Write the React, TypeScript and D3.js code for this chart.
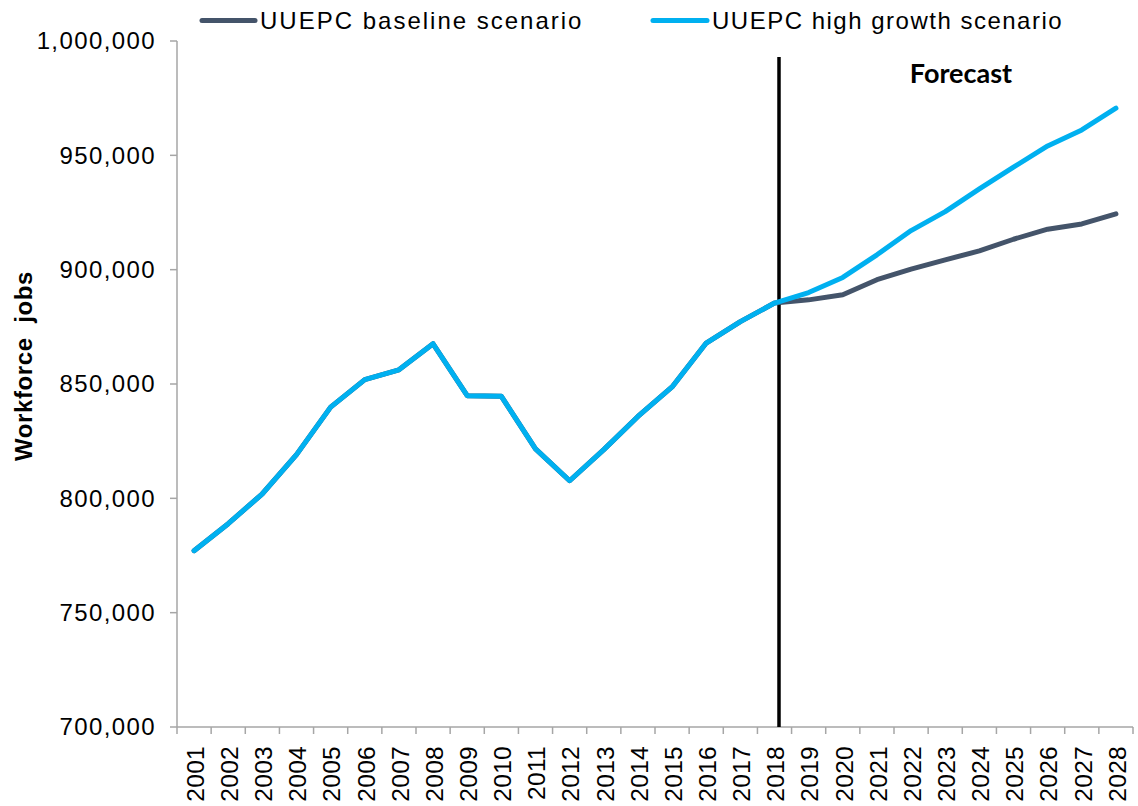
import React from "react";
import * as d3 from "d3";

const years: string[] = [
  "2001","2002","2003","2004","2005","2006","2007","2008","2009","2010",
  "2011","2012","2013","2014","2015","2016","2017","2018","2019","2020",
  "2021","2022","2023","2024","2025","2026","2027","2028",
];

const historical: number[] = [
  777100, 788900, 802000, 819100, 839900, 851900, 856200, 867600, 844900, 844600,
  821600, 807700, 821300, 835800, 848700, 867900, 877300, 885400,
];

const baselineForecast: number[] = [
  886800, 889000, 895600, 900200, 904300, 908200, 913300, 917700, 920000, 924400,
];

const highForecast: number[] = [
  890000, 896600, 906500, 917100, 925400, 935300, 944800, 954100, 961100, 970600,
];

const yTicks: number[] = [700000, 750000, 800000, 850000, 900000, 950000, 1000000];

const seriesNames: string[] = ["UUEPC baseline scenario", "UUEPC high growth scenario"];
const forecastYear = "2018";

const W = 1138;
const H = 806;
const left = 177;
const right = 1133;
const top = 41;
const bottom = 727;

const FONT = "'Liberation Sans', Arial, sans-serif";
const BASE_COLOR = "#44546a";
const HIGH_COLOR = "#00b0f0";
const AXIS_COLOR = "#a6a6a6";

export default function App() {
  const x = d3.scaleBand<string>().domain(years).range([left, right]).padding(0);
  const bw = x.bandwidth();
  const cx = (yr: string) => (x(yr) as number) + bw / 2;
  const y = d3.scaleLinear().domain([700000, 1000000]).range([bottom, top]);
  const fmt = d3.format(",");

  const baseline = historical.concat(baselineForecast);
  const high = historical.concat(highForecast);

  const line = d3
    .line<number>()
    .x((_, i) => cx(years[i]))
    .y((d) => y(d));

  const vx = cx(forecastYear) + 4.5;

  return (
    <div style={{ position: "absolute", left: 0, top: 0 }}>
      <svg width={W} height={H} style={{ display: "block", background: "#fff" }}>
        {/* y axis */}
        <line x1={left} x2={left} y1={top} y2={bottom} stroke={AXIS_COLOR} strokeWidth={1.5} />
        {yTicks.map((t) => (
          <g key={t}>
            <line x1={left - 7} x2={left} y1={y(t)} y2={y(t)} stroke={AXIS_COLOR} strokeWidth={1.5} />
            <text
              x={156}
              y={y(t)}
              dy="0.35em"
              textAnchor="end"
              fontFamily={FONT}
              fontSize={24}
              letterSpacing={1.4}
              fill="#000"
            >
              {fmt(t)}
            </text>
          </g>
        ))}
        {/* x axis */}
        <line x1={left} x2={right} y1={bottom} y2={bottom} stroke={AXIS_COLOR} strokeWidth={1.5} />
        {years.map((yr) => (
          <line
            key={"t" + yr}
            x1={x(yr) as number}
            x2={x(yr) as number}
            y1={bottom}
            y2={bottom + 7}
            stroke={AXIS_COLOR}
            strokeWidth={1.5}
          />
        ))}
        <line x1={right} x2={right} y1={bottom} y2={bottom + 7} stroke={AXIS_COLOR} strokeWidth={1.5} />
        {years.map((yr) => (
          <text
            key={"l" + yr}
            transform={`translate(${cx(yr) + 1},${746}) rotate(-90)`}
            dy="0.36em"
            textAnchor="end"
            fontFamily={FONT}
            fontSize={24.5}
            letterSpacing={0.3}
            fill="#000"
          >
            {yr}
          </text>
        ))}
        {/* axis title */}
        <text
          transform={`translate(32,366) rotate(-90)`}
          textAnchor="middle"
          fontFamily={FONT}
          fontSize={24}
          fontWeight="bold"
          letterSpacing={0.6}
          fill="#000"
          style={{ whiteSpace: "pre" }}
        >
          {"Workforce  jobs"}
        </text>
        {/* forecast divider */}
        <line x1={vx} x2={vx} y1={57} y2={bottom} stroke="#000" strokeWidth={3.5} />
        <text
          x={961}
          y={83}
          textAnchor="middle"
          fontFamily="Lato, 'Open Sans', sans-serif"
          fontSize={27}
          fontWeight="bold"
          fill="#000"
        >
          Forecast
        </text>
        {/* series */}
        <path d={line(baseline) || ""} fill="none" stroke={BASE_COLOR} strokeWidth={5} strokeLinejoin="round" strokeLinecap="round" />
        <path d={line(high) || ""} fill="none" stroke={HIGH_COLOR} strokeWidth={5} strokeLinejoin="round" strokeLinecap="round" />
        {/* legend */}
        <line x1={202} x2={255} y1={20.5} y2={20.5} stroke={BASE_COLOR} strokeWidth={5} strokeLinecap="round" />
        <text x={260} y={28.5} fontFamily={FONT} fontSize={24} letterSpacing={2.0} fill="#000">
          {seriesNames[0]}
        </text>
        <line x1={653} x2={707} y1={20.5} y2={20.5} stroke={HIGH_COLOR} strokeWidth={5} strokeLinecap="round" />
        <text x={712} y={28.5} fontFamily={FONT} fontSize={24} letterSpacing={1.5} fill="#000">
          {seriesNames[1]}
        </text>
      </svg>
    </div>
  );
}
